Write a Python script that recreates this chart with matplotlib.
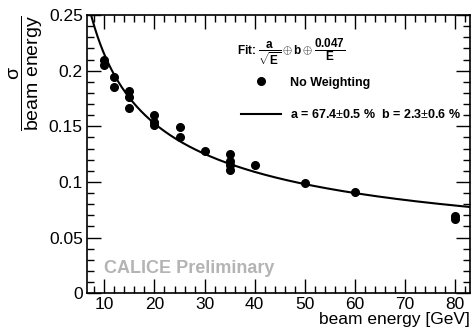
import numpy as np
import matplotlib
matplotlib.use('Agg')
import matplotlib.pyplot as plt
from matplotlib.ticker import MultipleLocator, FuncFormatter
from matplotlib.lines import Line2D

plt.rcParams['font.family'] = ['Liberation Sans', 'DejaVu Sans']
plt.rcParams['mathtext.fontset'] = 'custom'
plt.rcParams['mathtext.rm'] = 'Liberation Sans'
plt.rcParams['mathtext.it'] = 'Liberation Sans:italic'
plt.rcParams['mathtext.bf'] = 'Liberation Sans:bold'
plt.rcParams['mathtext.sf'] = 'Liberation Sans'

# measured resolution points
energy = [10, 10, 12, 12, 15, 15, 15, 20, 20, 20, 25, 25, 30,
          35, 35, 35, 35, 40, 50, 60, 80, 80]
resolution = [0.210, 0.205, 0.194, 0.185, 0.182, 0.176, 0.166, 0.160, 0.154, 0.151,
              0.149, 0.140, 0.128, 0.125, 0.119, 0.115, 0.111, 0.115, 0.099, 0.091,
              0.069, 0.067]
res_err = [0.004, 0.003, 0.003, 0.003, 0.003, 0.003, 0.002, 0.002, 0.002, 0.002,
           0.002, 0.002, 0.002, 0.002, 0.002, 0.002, 0.002, 0.002, 0.002, 0.002,
           0.002, 0.002]

# fit parameters: sigma/E = a/sqrt(E) (+) b (+) c/E
fit_a = 0.674
fit_b = 0.023
fit_c = 0.047

x_min, x_max = 6.5, 83.0
y_min, y_max = 0.0, 0.25

fig = plt.figure(figsize=(4.75, 3.35), dpi=100)
ax = fig.add_axes([0.183, 0.125, 0.806, 0.830])

e_fit = np.linspace(x_min, x_max, 400)
fit_curve = np.sqrt((fit_a / np.sqrt(e_fit))**2 + fit_b**2 + (fit_c / e_fit)**2)
ax.plot(e_fit, fit_curve, color='black', lw=1.5)

ax.errorbar(energy, resolution, yerr=res_err, fmt='o', color='black',
            markersize=5.5, elinewidth=1, capsize=0)

ax.set_xlim(x_min, x_max)
ax.set_ylim(y_min, y_max)
ax.xaxis.set_major_locator(MultipleLocator(10))
ax.xaxis.set_minor_locator(MultipleLocator(2))
ax.yaxis.set_major_locator(MultipleLocator(0.05))
ax.yaxis.set_minor_locator(MultipleLocator(0.01))
ax.yaxis.set_major_formatter(FuncFormatter(lambda v, p: '%g' % round(v, 3)))
ax.tick_params(which='both', direction='in', top=True, right=True, labelsize=12.5, pad=3)
ax.tick_params(which='major', length=10, width=1)
ax.tick_params(which='minor', length=5, width=1)
for s in ax.spines.values():
    s.set_linewidth(1.2)

ax.set_xlabel('beam energy [GeV]', fontsize=12.5, loc='right', labelpad=0)
fig.text(0.055, 0.955, r'$\dfrac{\mathrm{\sigma}}{\mathrm{beam\ energy}}$', rotation=90,
         fontsize=14, ha='center', va='top')

ax.text(0.045, 0.09, 'CALICE Preliminary', transform=ax.transAxes, color='#b4b4b4',
        fontsize=13, fontweight='bold', va='center')

ax.text(0.392, 0.866,
        r'Fit: $\mathbf{\dfrac{a}{\sqrt{E}}} \oplus \mathbf{b} \oplus \mathbf{\dfrac{0.047}{E}}$',
        transform=ax.transAxes, fontsize=8.5, fontweight='bold', va='center', ha='left')

handles = [Line2D([], [], marker='o', color='black', ls='none', markersize=5.5),
           Line2D([], [], color='black', lw=1.5)]
labels = ['No Weighting', 'a = 67.4$\\pm$0.5 %  b = 2.3$\\pm$0.6 %']
leg = ax.legend(handles, labels, frameon=False, loc='upper left',
                bbox_to_anchor=(0.402, 0.778), borderpad=0, borderaxespad=0,
                prop={'weight': 'bold', 'size': 9},
                handlelength=3.2, handletextpad=0.72, labelspacing=1.55)

fig.savefig('out.png', dpi=100)
